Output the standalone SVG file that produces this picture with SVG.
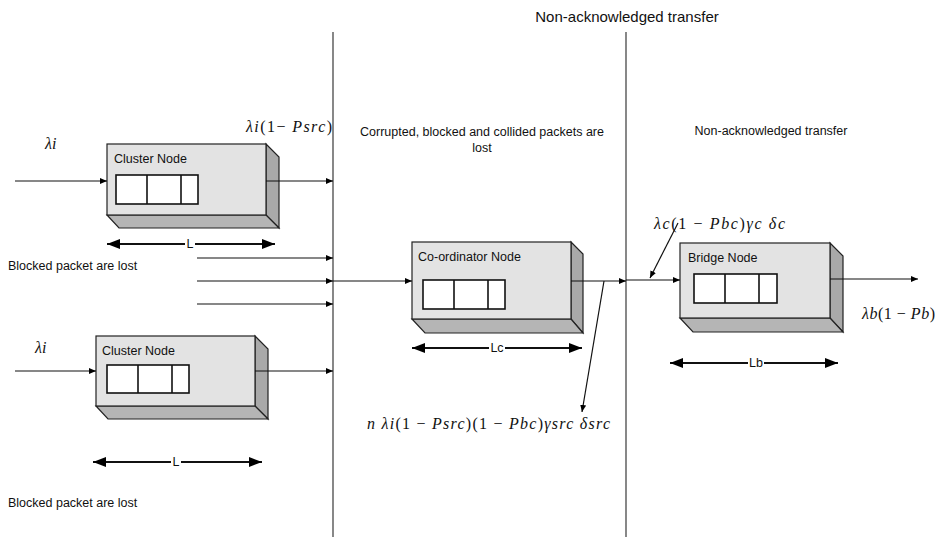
<svg xmlns="http://www.w3.org/2000/svg" width="938" height="537" viewBox="0 0 938 537">
<defs>
<marker id="ah" markerWidth="8" markerHeight="8" refX="7" refY="4" orient="auto" markerUnits="userSpaceOnUse">
<path d="M0,1 L7,4 L0,7 z" fill="#000"/>
</marker>
<marker id="dim" markerWidth="14" markerHeight="10" refX="13" refY="5" orient="auto-start-reverse" markerUnits="userSpaceOnUse">
<path d="M0,0 L13,5 L0,10 z" fill="#000"/>
</marker>
<style>
.front{fill:#e3e3e3;stroke:#222;stroke-width:1.2}
.side{fill:#a9a9a9;stroke:#222;stroke-width:1.2}
.bottom{fill:#b5b5b5;stroke:#222;stroke-width:1.2}
.q{fill:#fff;stroke:#111;stroke-width:1.6}
.lbl{font-family:"Liberation Sans",Arial,sans-serif;font-size:12.5px;fill:#111}
.ttl{font-family:"Liberation Sans",Arial,sans-serif;font-size:15px;fill:#111}
.math{font-family:"Liberation Serif","Times New Roman",serif;font-size:16px;font-style:italic;fill:#111}
.flow{stroke:#111;stroke-width:1.2;fill:none;marker-end:url(#ah)}
.dimline{stroke:#111;stroke-width:1.8;fill:none;marker-start:url(#dim);marker-end:url(#dim)}
.div{stroke:#555;stroke-width:1.4}
.bg{fill:#fff}
</style>
</defs>
<rect width="938" height="537" fill="#fff"/>

<g id="boundaries">
<line x1="333" y1="32" x2="333" y2="537" class="div"/>
<line x1="626" y1="32" x2="626" y2="537" class="div"/>
</g>

<g id="texts">
<text x="627" y="22" text-anchor="middle" class="ttl">Non-acknowledged transfer</text>
<text x="482" y="136" text-anchor="middle" class="lbl">Corrupted, blocked and collided packets are</text>
<text x="482" y="152" text-anchor="middle" class="lbl">lost</text>
<text x="771" y="135" text-anchor="middle" class="lbl">Non-acknowledged transfer</text>
<text x="8" y="270" class="lbl">Blocked packet are lost</text>
<text x="8" y="507" class="lbl">Blocked packet are lost</text>
<text x="45" y="149" class="math">λi</text>
<text x="35" y="353" class="math">λi</text>
<text x="246" y="132" class="math" textLength="86" lengthAdjust="spacing">λi<tspan font-style="normal">(1− </tspan>Psrc<tspan font-style="normal">)</tspan></text>
<text x="654" y="229" class="math" textLength="131" lengthAdjust="spacing">λc<tspan font-style="normal">(1 − </tspan>Pbc<tspan font-style="normal">)</tspan>γc δc</text>
<text x="862" y="319" class="math" textLength="73" lengthAdjust="spacing">λb<tspan font-style="normal">(1 − </tspan>Pb<tspan font-style="normal">)</tspan></text>
<text x="367" y="429" class="math" textLength="243" lengthAdjust="spacing">n λi<tspan font-style="normal">(1 − </tspan>Psrc<tspan font-style="normal">)(1 − </tspan>Pbc<tspan font-style="normal">)</tspan>γsrc δsrc</text>
</g>

<g id="cluster1">
<polygon class="side" points="266,144 279,157 279,228 266,215"/>
<polygon class="bottom" points="107,215 266,215 279,228 119,228"/>
<rect class="front" x="107" y="144" width="159" height="71"/>
<text x="114" y="163" class="lbl">Cluster Node</text>
<rect class="q" x="116" y="175" width="82" height="29"/>
<line x1="147" y1="175" x2="147" y2="204" stroke="#111" stroke-width="1.6"/>
<line x1="181" y1="175" x2="181" y2="204" stroke="#111" stroke-width="1.6"/>
</g>

<g id="cluster2">
<polygon class="side" points="255,336 268,349 268,419 255,406"/>
<polygon class="bottom" points="96,406 255,406 268,419 108,419"/>
<rect class="front" x="96" y="336" width="159" height="70"/>
<text x="102" y="355" class="lbl">Cluster Node</text>
<rect class="q" x="107" y="365" width="82" height="28"/>
<line x1="138" y1="365" x2="138" y2="393" stroke="#111" stroke-width="1.6"/>
<line x1="172" y1="365" x2="172" y2="393" stroke="#111" stroke-width="1.6"/>
</g>

<g id="coordinator">
<polygon class="side" points="571,242 583,254 583,333 571,319"/>
<polygon class="bottom" points="412,319 571,319 583,333 425,333"/>
<rect class="front" x="412" y="242" width="159" height="77"/>
<text x="418" y="261" class="lbl">Co-ordinator Node</text>
<rect class="q" x="423" y="280" width="82" height="29"/>
<line x1="454" y1="280" x2="454" y2="309" stroke="#111" stroke-width="1.6"/>
<line x1="488" y1="280" x2="488" y2="309" stroke="#111" stroke-width="1.6"/>
</g>

<g id="bridge">
<polygon class="side" points="830,243 843,256 843,332 830,318"/>
<polygon class="bottom" points="680,318 830,318 843,332 693,332"/>
<rect class="front" x="680" y="243" width="150" height="75"/>
<text x="688" y="262" class="lbl">Bridge Node</text>
<rect class="q" x="694" y="274" width="83" height="29"/>
<line x1="725" y1="274" x2="725" y2="303" stroke="#111" stroke-width="1.6"/>
<line x1="759" y1="274" x2="759" y2="303" stroke="#111" stroke-width="1.6"/>
</g>

<g id="connectors">
<line class="flow" x1="15" y1="181" x2="107" y2="181"/>
<line class="flow" x1="266" y1="181" x2="333" y2="181"/>
<line class="flow" x1="15" y1="371" x2="96" y2="371"/>
<line class="flow" x1="255" y1="371" x2="333" y2="371"/>
<line class="flow" x1="197" y1="258" x2="333" y2="258"/>
<line class="flow" x1="197" y1="281" x2="333" y2="281"/>
<line class="flow" x1="197" y1="304" x2="333" y2="304"/>
<line class="flow" x1="333" y1="281" x2="412" y2="281"/>
<line class="flow" x1="571" y1="281" x2="626" y2="281"/>
<line class="flow" x1="626" y1="280" x2="680" y2="280"/>
<line class="flow" x1="830" y1="279" x2="918" y2="279"/>
<line class="flow" x1="604" y1="281" x2="582" y2="412"/>
<line class="flow" x1="678" y1="223" x2="650" y2="278"/>
</g>

<g id="dimensions">
<line class="dimline" x1="107" y1="244" x2="275" y2="244"/>
<rect class="bg" x="185" y="238" width="10" height="12"/>
<text x="190" y="248" text-anchor="middle" class="lbl">L</text>
<line class="dimline" x1="93" y1="462" x2="262" y2="462"/>
<rect class="bg" x="171" y="456" width="10" height="12"/>
<text x="176" y="466" text-anchor="middle" class="lbl">L</text>
<line class="dimline" x1="412" y1="348" x2="582" y2="348"/>
<rect class="bg" x="489" y="342" width="16" height="12"/>
<text x="497" y="352" text-anchor="middle" class="lbl">Lc</text>
<line class="dimline" x1="670" y1="363" x2="838" y2="363"/>
<rect class="bg" x="748" y="357" width="16" height="12"/>
<text x="756" y="367" text-anchor="middle" class="lbl">Lb</text>
</g>
</svg>
